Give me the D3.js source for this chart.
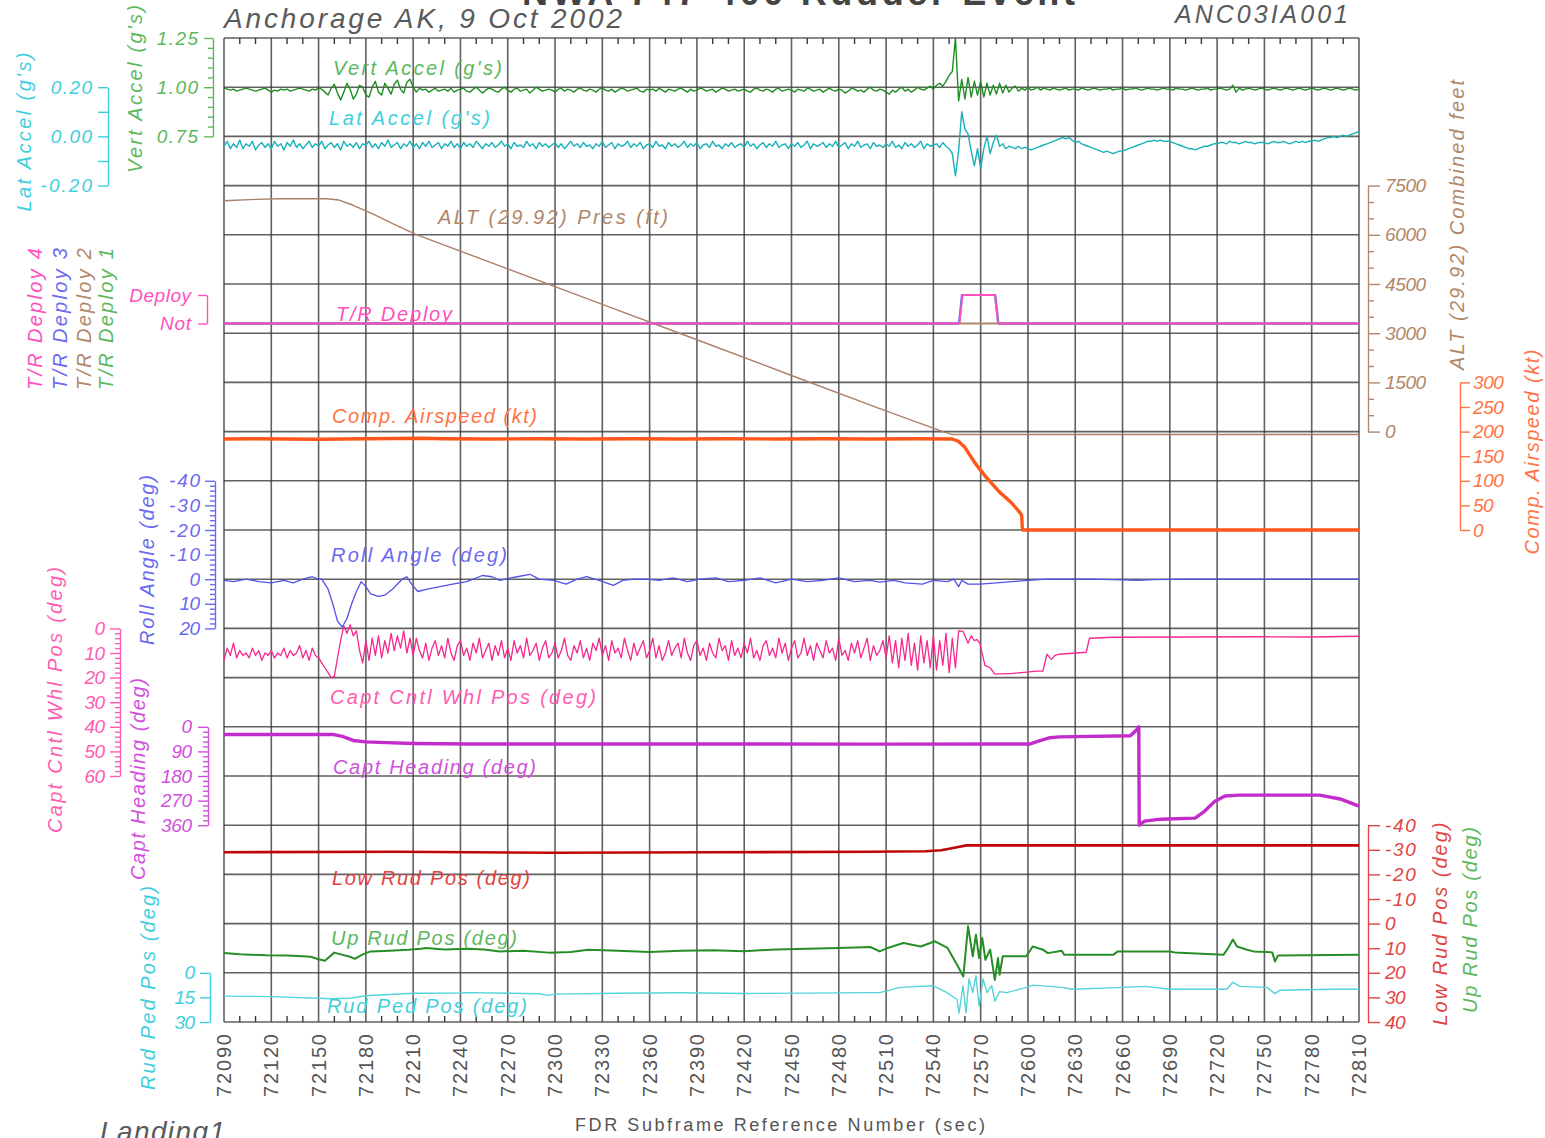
<!DOCTYPE html>
<html>
<head>
<meta charset="utf-8">
<script src="https://cdn.jsdelivr.net/npm/d3@7"></script>
<style>
  body { margin: 0; background: #fff; }
  svg text { font-family: "Liberation Sans", "DejaVu Sans", sans-serif; }
</style>
</head>
<body>
<svg id="chart" width="1545" height="1138"></svg>
<script>
// ---------------- data ----------------
// FDR subframe reference time (sec)
const xTickValues = [72090,72120,72150,72180,72210,72240,72270,72300,72330,72360,72390,72420,
  72450,72480,72510,72540,72570,72600,72630,72660,72690,72720,72750,72780,72810];

// uniformly sampled channels (every 2 s from 72090)
const sampleStart = 72090, sampleStep = 2;

// Vertical acceleration (g)
const vertAccel = [
  0.995,0.99,0.985,0.99,0.98,0.985,0.99,0.995,0.99,0.985,0.98,0.985,0.99,0.995,0.985,
  0.975,0.985,0.98,0.99,0.985,0.99,0.98,0.985,0.99,0.995,0.99,0.985,0.98,0.99,0.985,
  0.995,0.99,0.975,0.96,0.995,1.015,0.97,0.935,0.975,1.02,0.99,0.94,0.965,1.01,1.0,
  0.96,0.95,1.0,1.03,0.975,0.96,1.02,0.995,0.965,1.015,1.035,0.99,0.97,1.025,1.04,
  1.0,0.975,0.995,0.985,0.99,0.975,0.985,0.995,0.98,0.985,0.99,0.98,0.995,0.975,0.985,
  0.99,0.995,0.98,0.975,0.99,1.0,0.985,0.97,0.985,0.995,0.99,0.98,0.975,0.99,1.0,
  0.985,0.975,0.99,0.995,0.98,0.985,0.99,0.97,0.985,1.0,0.99,0.98,0.985,0.99,0.985,
  0.975,0.99,0.995,0.98,0.99,0.985,0.975,0.99,0.995,0.985,0.98,0.99,0.985,0.975,0.99,
  0.995,0.985,0.98,0.99,0.975,0.985,0.995,0.99,0.98,0.985,0.99,0.995,0.98,0.975,0.99,
  0.985,0.99,0.98,0.995,0.985,0.975,0.99,0.985,0.98,0.99,0.995,0.985,0.975,0.99,0.98,
  0.985,0.995,0.99,0.98,0.985,0.99,0.975,0.985,0.995,0.99,0.98,0.985,0.99,0.98,0.985,
  0.99,0.98,0.975,0.99,0.995,0.985,0.98,0.99,0.985,0.975,0.99,0.995,0.98,0.985,0.99,
  0.985,0.975,0.99,0.985,0.98,0.995,0.99,0.98,0.985,0.99,0.975,0.985,0.995,0.985,0.98,
  0.99,0.985,0.97,0.98,0.995,0.99,0.98,0.985,0.975,0.99,1.0,0.985,0.98,0.99,0.985,
  0.975,0.965,0.985,0.975,0.99,1.0,0.98,0.99,0.975,0.985,1.0,0.99,0.985,0.995,1.005,
  0.99,1.01,1.02,1.005,1.03,1.06,1.08,1.25,0.93,1.04,0.94,1.05,0.95,1.03,0.96,
  1.03,0.95,1.02,0.96,1.01,0.965,1.02,0.97,1.01,0.975,0.995,1.005,0.98,0.995,0.985,
  1.0,0.985,0.99,1.0,0.985,0.995,0.99,0.985,0.995,0.99,0.985,0.99,0.995,0.985,0.99,
  0.99,0.985,0.995,0.99,0.985,0.99,0.995,0.99,0.985,0.99,0.99,0.995,0.985,0.99,0.99,
  0.995,0.985,0.99,0.99,0.995,0.99,0.985,0.99,0.995,0.99,0.99,0.985,0.99,0.995,0.99,
  0.99,0.985,0.995,0.99,0.99,0.985,0.99,0.995,0.99,0.985,0.99,0.99,0.995,0.985,0.99,
  0.99,0.995,0.99,0.985,0.99,1.01,0.975,0.995,0.985,0.99,0.995,0.99,0.985,0.99,0.995,
  0.99,0.985,0.99,0.995,0.99,0.985,0.99,0.995,0.99,0.985,0.99,0.995,0.99,0.985,0.99,
  0.995,0.99,0.985,0.99,0.995,0.99,0.985,0.99,0.995,0.99,0.985,0.99,0.995,0.99,0.985,
  0.99
];

// Lateral acceleration (g)
const latAccel = [
  -0.04,-0.02,-0.05,-0.03,-0.045,-0.015,-0.05,-0.03,-0.04,-0.02,-0.055,-0.035,-0.025,-0.045,-0.03,
  -0.05,-0.02,-0.04,-0.03,-0.055,-0.025,-0.04,-0.015,-0.045,-0.03,-0.05,-0.035,-0.02,-0.045,-0.03,
  -0.04,-0.02,-0.05,-0.035,-0.025,-0.045,-0.03,-0.055,-0.02,-0.04,-0.03,-0.045,-0.025,-0.05,-0.03,
  -0.035,-0.02,-0.045,-0.03,-0.05,-0.025,-0.04,-0.015,-0.045,-0.035,-0.025,-0.05,-0.03,-0.04,-0.02,
  -0.045,-0.03,-0.05,-0.025,-0.04,-0.02,-0.045,-0.035,-0.025,-0.05,-0.03,-0.04,-0.02,-0.045,-0.03,
  -0.05,-0.025,-0.04,-0.03,-0.045,-0.02,-0.035,-0.05,-0.03,-0.04,-0.025,-0.045,-0.035,-0.02,-0.04,
  -0.03,-0.05,-0.025,-0.04,-0.035,-0.045,-0.02,-0.04,-0.03,-0.05,-0.025,-0.04,-0.03,-0.045,-0.035,
  -0.025,-0.045,-0.03,-0.05,-0.035,-0.02,-0.04,-0.03,-0.045,-0.025,-0.04,-0.035,-0.05,-0.03,-0.04,
  -0.02,-0.045,-0.035,-0.025,-0.05,-0.03,-0.04,-0.035,-0.02,-0.045,-0.03,-0.04,-0.025,-0.05,-0.035,
  -0.03,-0.045,-0.02,-0.04,-0.035,-0.05,-0.025,-0.04,-0.03,-0.045,-0.035,-0.02,-0.045,-0.03,-0.04,
  -0.025,-0.05,-0.035,-0.03,-0.045,-0.02,-0.04,-0.035,-0.05,-0.03,-0.04,-0.025,-0.045,-0.035,-0.03,
  -0.045,-0.02,-0.04,-0.03,-0.05,-0.035,-0.025,-0.045,-0.03,-0.04,-0.02,-0.045,-0.035,-0.03,-0.05,
  -0.03,-0.04,-0.025,-0.045,-0.035,-0.02,-0.05,-0.03,-0.04,-0.035,-0.025,-0.045,-0.03,-0.04,-0.02,
  -0.045,-0.035,-0.025,-0.05,-0.03,-0.04,-0.02,-0.045,-0.035,-0.03,-0.05,-0.025,-0.04,-0.035,-0.045,
  -0.03,-0.04,-0.02,-0.045,-0.035,-0.05,-0.025,-0.04,-0.03,-0.045,-0.035,-0.02,-0.05,-0.03,-0.04,
  -0.035,-0.03,-0.045,-0.025,-0.04,-0.05,-0.07,-0.16,-0.06,0.10,0.03,0.01,-0.06,-0.12,-0.05,
  -0.13,-0.05,0.0,-0.07,-0.025,0.005,-0.04,-0.03,-0.05,-0.04,-0.045,-0.05,-0.04,-0.05,-0.045,
  -0.05,-0.055,-0.05,-0.045,-0.04,-0.035,-0.03,-0.025,-0.02,-0.015,-0.01,-0.005,-0.01,-0.005,-0.015,
  -0.025,-0.02,-0.03,-0.035,-0.04,-0.045,-0.05,-0.055,-0.06,-0.065,-0.06,-0.065,-0.07,-0.065,-0.06,
  -0.06,-0.055,-0.05,-0.045,-0.04,-0.035,-0.03,-0.025,-0.02,-0.02,-0.015,-0.02,-0.015,-0.02,-0.02,
  -0.02,-0.025,-0.03,-0.035,-0.04,-0.045,-0.05,-0.05,-0.055,-0.05,-0.045,-0.04,-0.04,-0.035,-0.03,
  -0.03,-0.025,-0.025,-0.03,-0.02,-0.025,-0.025,-0.03,-0.025,-0.02,-0.025,-0.025,-0.03,-0.025,-0.025,
  -0.025,-0.03,-0.025,-0.02,-0.025,-0.025,-0.02,-0.025,-0.03,-0.025,-0.02,-0.025,-0.02,-0.025,-0.02,
  -0.02,-0.015,-0.02,-0.015,-0.01,-0.005,-0.005,0.0,-0.005,0.0,0.005,0.0,0.005,0.01,0.015,
  0.02
];

// Captain control wheel position (deg), sampled part before touchdown
const cntlWhlSampled = [
  13,8,11,6,12,9,11,10,12,8,11,9,13,10,11,
  9,12,10,11,8,12,9,11,10,7,12,9,13,8,11,
  12,14,16,18,20,19.5,12,5,-1,2,-1.5,3,1,9,14,
  5,13,4,11,3,12,5,10,2,9,3,8,1,10,4,
  11,4,9,12,6,13,8,5,11,7,12,4,10,13,7,
  5,11,8,13,6,10,4,12,9,6,13,7,11,5,12,
  8,13,5,10,7,12,4,11,9,6,13,8,5,12,10,
  6,12,9,4,11,13,7,10,5,12,8,13,6,9,4,
  11,7,13,5,10,8,12,4,9,13,6,11,8,5,12,
  9,4,12,7,13,10,5,11,8,6,12,4,10,13,7,
  5,11,8,13,6,10,12,4,9,7,13,5,11,8,12,
  6,10,4,12,9,13,7,5,11,8,12,4,10,6,13,
  8,5,12,10,4,11,7,13,6,9,12,5,10,8,13,
  4,11,9,13,6,10,5,12,8,4,13,7,11,9,5,
  12,3,14,5,16,4,13,2,15,6,17,3,14,5,16,
  3,17,5,15,2,18,4,16,1
];
// Captain control wheel position (deg) after touchdown, [time, value]
const cntlWhlAfter = [
  [72558.8,1.2],[72562,6],[72564,3],[72566,5],[72567.6,4.5],[72569.5,6],[72572.7,15],[72576,16],
  [72579,18.6],[72590,18.3],[72605.7,17.4],[72609.5,17.4],[72612,10.5],[72614,12],[72615,12.6],
  [72617,11],[72620,10.5],[72637,9.7],[72639,4],[72654,3.6],[72700,3.5],[72750,3.4],[72780,3.5],[72810,3.2]
];

// Pressure altitude (ft), [time, value]
const altitude = [
  [72090,7040],[72110,7080],[72125,7100],[72155,7100],[72163,7060],[72172,6900],[72185,6620],
  [72198,6320],[72212,6007],[72270,4960],[72330,3880],[72390,2800],[72450,1710],[72506,701],
  [72546,0],[72552,-90],[72810,-90]
];

// Thrust reverser deploy discretes (0 = Not, 1 = Deploy)
const trDeploy1 = [[72090,0],[72556.5,0],[72558.5,1],[72579,1],[72581,0],[72810,0]];
const trDeploy2 = [[72090,0],[72810,0]];
const trDeploy3 = [[72090,0],[72556.1,0],[72558.0,1],[72579.4,1],[72581.4,0],[72810,0]];
const trDeploy4 = [[72090,0],[72556.5,0],[72558.5,1],[72579,1],[72581,0],[72810,0]];

// Computed airspeed (kt)
const airspeed = [
  [72090,185],[72110,185.5],[72130,185],[72150,184.5],[72180,185.5],[72200,186],[72215,186.5],
  [72230,185.5],[72260,185],[72290,185.5],[72320,185],[72350,185.5],[72380,185],[72410,185.5],
  [72440,185],[72470,185.5],[72500,185],[72530,185.5],[72552,185],[72556,180],[72560,168],
  [72566,138],[72573,109],[72582,77],[72589,57],[72594,39],[72596,30],[72596.5,0],[72810,0]
];

// Roll angle (deg)
const rollAngle = [
  [72090,0.5],[72096,1],[72104,0],[72112,1],[72120,1.5],[72128,0.5],[72134,1.5],[72140,0],[72146,-1],
  [72150,0],[72152,0],[72156,4],[72159,10],[72162,17],[72165,19.5],[72168,16],[72171,10],[72174,5],
  [72177,1],[72180,3],[72183,6],[72188,7],[72192,6.5],[72197,4],[72203,0],[72206,-1],[72209,2],
  [72213,5],[72219,4],[72227,3],[72235,2],[72244,1],[72254,-1.5],[72260,-1],[72265,0.5],[72272,-0.5],
  [72276,-1],[72284,-2],[72290,0],[72299,0.5],[72307,2],[72314,0],[72320,-1],[72328,0.5],[72337,2.5],
  [72343,0.5],[72350,0],[72358,0],[72366,0.5],[72375,-0.5],[72384,1],[72392,0],[72402,-0.5],[72410,1],
  [72420,0.5],[72430,-0.5],[72440,1.5],[72450,0],[72460,1],[72470,0.5],[72480,-0.5],[72490,1],
  [72500,0.5],[72506,1.2],[72515,0.5],[72522,1.5],[72533,2],[72540,0.5],[72549,1],[72553,0],
  [72556,3],[72558,0.5],[72562,2],[72570,2],[72580,1.5],[72590,1],[72600,0.5],[72612,0],[72640,0],
  [72660,0.3],[72670,0.5],[72680,0.2],[72700,0],[72810,0]
];

// Captain heading (deg)
const captHeading = [
  [72090,28],[72159,28],[72165,35],[72172,50],[72180,55],[72193,58],[72210,61],[72244,63],[72400,63],
  [72500,63.5],[72601,63],[72607.6,51],[72614,40],[72620,37],[72665,33],[72669,11],[72670.3,0],
  [72670.6,360],[72674,345],[72684,338],[72706,334],[72712,309],[72718.6,272],[72725,253],
  [72734.5,250],[72785,250],[72798,264],[72810,290]
];

// Lower rudder position (deg)
const lowRudPos = [
  [72090,-29],[72200,-29.2],[72300,-28.8],[72400,-29],[72500,-29.2],[72535,-29.4],[72545,-29.8],
  [72555,-31],[72561,-31.8],[72810,-31.8]
];

// Upper rudder position (deg)
const upRudPos = [
  [72090,12],[72100,12.5],[72117,12.9],[72130,13],[72140,13.3],[72145,13.5],[72150,14.5],[72154,15.1],
  [72156,14],[72160,11.8],[72164,12.5],[72170,13.5],[72173,14.3],[72178,12.5],[72183,11.3],[72195,11],
  [72207,10.6],[72215,10.2],[72218,9.9],[72230,10.5],[72245,10.2],[72255,10.5],[72265,11.3],[72280,11],
  [72296,11.8],[72310,11.5],[72321,10.6],[72340,11],[72360,11.5],[72380,11],[72400,10.8],[72420,11.2],
  [72440,10.5],[72460,10.2],[72480,9.9],[72500,9.5],[72506,11.3],[72511,9.9],[72521,7.9],[72532,9.3],
  [72541,7.2],[72549,9.9],[72555,16.7],[72559,21.5],[72562,1.1],[72565,13.3],[72567,4.5],[72569,14],
  [72571,5.8],[72573,14.7],[72576,10.6],[72579,22.9],[72581,14],[72582,20.8],[72584,13.3],[72599,13.3],
  [72603,9.3],[72609.5,10.6],[72612.6,12],[72621.5,11],[72623,12.7],[72654,12.7],[72657,11.3],
  [72690,11.3],[72693,11.7],[72724,12.7],[72727,9.9],[72730,6.5],[72732.6,9.3],[72739,10.6],
  [72743,11.3],[72755,11.7],[72756.7,15.4],[72758.6,13],[72810,12.7]
];

// Rudder pedal position (deg)
const rudPedPos = [
  [72090,14.2],[72120,14.5],[72150,15.5],[72158,15.8],[72170,15.5],[72180,14],[72210,12.5],[72240,12.3],
  [72247,12.1],[72290,12.8],[72295,13.8],[72300,13],[72340,12.5],[72380,12.2],[72420,12.6],[72460,12.4],
  [72500,12.1],[72506,12.1],[72519,8.9],[72540,7.9],[72548.6,12.1],[72555,16.3],[72556.3,24.6],
  [72558.8,7.9],[72560.7,24.4],[72562.6,3.8],[72565,12.1],[72567,1.7],[72569,20.4],[72571.5,3.8],
  [72574,12.1],[72577,7.9],[72579,17.3],[72582,11.5],[72586.5,12.1],[72599,8.9],[72603,7.5],
  [72621.5,8.9],[72628.5,10],[72660,8.9],[72675,8.3],[72690,10],[72726,10],[72730,5.8],[72734.5,8.3],
  [72751.6,8.9],[72756.7,12.7],[72760,10.6],[72792,10],[72810,10]
];

// ---------------- layout ----------------
const svg = d3.select("#chart");
const plotLeft = 224, plotRight = 1359, plotTop = 38, plotBottom = 1022;
const rowH = (plotBottom - plotTop) / 20;
const rowY = i => plotTop + i * rowH;
const FONT = '"Liberation Sans", "DejaVu Sans", sans-serif';

const x = d3.scaleLinear().domain([72090, 72810]).range([plotLeft, plotRight]);

const yVert = d3.scaleLinear().domain([0.75, 1.25]).range([rowY(2), rowY(0)]);
const yLat = d3.scaleLinear().domain([-0.2, 0.2]).range([rowY(3), rowY(1)]);
const yAlt = d3.scaleLinear().domain([0, 7500]).range([rowY(8), rowY(3)]);
const yTR = d3.scaleLinear().domain([0, 1]).range([323.5, 295]);
const yAir = d3.scaleLinear().domain([0, 300]).range([rowY(10), rowY(7)]);
const yRoll = d3.scaleLinear().domain([-40, 20]).range([rowY(9), rowY(12)]);
const yWhl = d3.scaleLinear().domain([0, 60]).range([rowY(12), rowY(15)]);
const yHdg = d3.scaleLinear().domain([0, 360]).range([rowY(14), rowY(16)]);
const yRud = d3.scaleLinear().domain([-40, 40]).range([rowY(16), rowY(20)]);
const yPed = d3.scaleLinear().domain([0, 30]).range([rowY(19), rowY(20)]);

const C = {
  grey: "#5a5a5a",
  greenLbl: "#5cb85c", greenTrace: "#1f8c1f",
  cyanLbl: "#3fcfdc", latTrace: "#17b0bb", pedTrace: "#55d3dc",
  brownLbl: "#b0876a", altTrace: "#a9806a",
  pink: "#ff4fc0", blue: "#6a6af0", rollTrace: "#5252e6",
  orangeLbl: "#ff7445", orangeTrace: "#ff561c",
  whlLbl: "#ff5cb2", whlTrace: "#f5288f",
  hdgLbl: "#d050dc", hdgTrace: "#c22cca",
  redLbl: "#e04444", redTrace: "#bf0606",
  upRudTrace: "#278e27"
};

// ---------------- grid ----------------
const grid = svg.append("g");
grid.selectAll("line.h").data(d3.range(21)).join("line")
  .attr("x1", plotLeft).attr("x2", plotRight)
  .attr("y1", d => rowY(d)).attr("y2", d => rowY(d))
  .attr("stroke", "#3a3a3a").attr("stroke-opacity", 0.8).attr("stroke-width", 1.6);
grid.selectAll("line.v").data(xTickValues).join("line")
  .attr("x1", d => x(d)).attr("x2", d => x(d))
  .attr("y1", plotTop).attr("y2", plotBottom)
  .attr("stroke", "#3a3a3a").attr("stroke-opacity", 0.8).attr("stroke-width", 1.6);

// 10-second minor ticks along top and bottom edges
const minorX = d3.range(72090, 72811, 10).filter(t => (t - 72090) % 30 !== 0);
grid.selectAll("line.mt").data(minorX).join("line")
  .attr("x1", d => x(d)).attr("x2", d => x(d))
  .attr("y1", plotTop).attr("y2", plotTop + 6)
  .attr("stroke", "#3a3a3a").attr("stroke-width", 1.4);
grid.selectAll("line.mb").data(minorX).join("line")
  .attr("x1", d => x(d)).attr("x2", d => x(d))
  .attr("y1", plotBottom).attr("y2", plotBottom - 6)
  .attr("stroke", "#3a3a3a").attr("stroke-width", 1.4);

// ---------------- axes ----------------
function styleAxis(g, color) {
  g.attr("font-size", null).attr("font-family", null);
  g.selectAll("path, line").attr("stroke", color).attr("stroke-width", 1.4);
  g.selectAll("text").attr("fill", color)
    .style("font-family", FONT).style("font-size", "19px").style("font-style", "italic")
    .attr("textLength", function () { return this.textContent.length * 10.3; })
    .attr("lengthAdjust", "spacing");
}
function valueAxis(side, scale, xPos, color, majors, fmt, minors, majorLen, minorLen, pad) {
  const make = side === "left" ? d3.axisLeft : d3.axisRight;
  const g = svg.append("g").attr("transform", `translate(${xPos},0)`);
  g.call(make(scale).tickValues(majors).tickFormat(fmt).tickSize(majorLen).tickSizeOuter(0).tickPadding(pad));
  styleAxis(g, color);
  if (minors && minors.length) {
    const m = svg.append("g").attr("transform", `translate(${xPos},0)`);
    m.call(make(scale).tickValues(minors).tickFormat("").tickSize(minorLen).tickSizeOuter(0));
    m.select(".domain").remove();
    styleAxis(m, color);
  }
  return g;
}
const plain = d => String(d);
const twoDec = d => d.toFixed(2);

valueAxis("left", yVert, 213, C.greenLbl, [0.75, 1.0, 1.25], twoDec,
  [0.8, 0.85, 0.9, 0.95, 1.05, 1.1, 1.15, 1.2], 9, 5, 6);
valueAxis("left", yLat, 108, C.cyanLbl, [-0.2, 0, 0.2], twoDec, [-0.1, 0.1], 10, 10, 6);
valueAxis("left", yTR, 207, C.pink, [0, 1], d => d ? "Deploy" : "Not", [], 9, 0, 7);
valueAxis("left", yRoll, 215, C.blue, [-40, -30, -20, -10, 0, 10, 20], plain,
  d3.range(-38, 20, 2).filter(d => d % 10 !== 0), 10, 5, 5);
valueAxis("left", yWhl, 120, C.whlLbl, [0, 10, 20, 30, 40, 50, 60], plain,
  d3.range(2, 60, 2).filter(d => d % 10 !== 0), 10, 5, 5);
valueAxis("left", yHdg, 208, C.hdgLbl, [0, 90, 180, 270, 360], plain,
  d3.range(18, 360, 18).filter(d => d % 90 !== 0), 10, 5, 6);
valueAxis("left", yPed, 210, C.cyanLbl, [0, 15, 30], plain, [], 10, 0, 5);
valueAxis("right", yAlt, 1368, C.brownLbl, [0, 1500, 3000, 4500, 6000, 7500], plain,
  d3.range(500, 7500, 500).filter(d => d % 1500 !== 0), 12, 6, 5);
valueAxis("right", yAir, 1460, C.orangeLbl, [0, 50, 100, 150, 200, 250, 300], plain, [], 10, 0, 3);
valueAxis("right", yRud, 1368, C.redLbl, [-40, -30, -20, -10, 0, 10, 20, 30, 40], plain, [], 12, 0, 5);

// x axis labels (rotated)
svg.append("g").selectAll("text").data(xTickValues).join("text")
  .attr("transform", d => `translate(${x(d)},1034) rotate(-90)`)
  .attr("text-anchor", "end").attr("dominant-baseline", "central")
  .attr("fill", "#555").style("font-size", "20px")
  .attr("textLength", 63).attr("lengthAdjust", "spacing")
  .text(d => d);

// ---------------- traces ----------------
const stepped = (vals, t0) => vals.map((v, i) => [t0 + i * sampleStep, v]);
function trace(data, y, color, width) {
  svg.append("path").datum(data)
    .attr("fill", "none").attr("stroke", color).attr("stroke-width", width)
    .attr("stroke-linejoin", "round")
    .attr("d", d3.line().x(d => x(d[0])).y(d => y(d[1])));
}

trace(altitude, yAlt, C.altTrace, 1.4);
trace(stepped(vertAccel, sampleStart), yVert, C.greenTrace, 1.4);
trace(stepped(latAccel, sampleStart), yLat, C.latTrace, 1.4);
trace(trDeploy1, yTR, "#4fb04f", 1.8);
trace(trDeploy2, yTR, C.brownLbl, 1.8);
trace(trDeploy3, yTR, C.blue, 1.8);
trace(trDeploy4, yTR, C.pink, 1.8);
trace(airspeed, yAir, C.orangeTrace, 3.4);
trace(rollAngle, yRoll, C.rollTrace, 1.3);
trace(stepped(cntlWhlSampled, sampleStart).concat(cntlWhlAfter), yWhl, C.whlTrace, 1.3);
trace(captHeading, yHdg, C.hdgTrace, 3.4);
trace(lowRudPos, yRud, C.redTrace, 2.6);
trace(upRudPos, yRud, C.upRudTrace, 2.0);
trace(rudPedPos, yPed, C.pedTrace, 1.4);

// ---------------- text ----------------
function label(txt, x0, y0, color, size, len, opts = {}) {
  const t = svg.append("text").text(txt)
    .attr("fill", color).style("font-size", size + "px")
    .style("font-style", opts.upright ? "normal" : "italic")
    .style("font-weight", opts.bold ? "bold" : "normal");
  if (opts.rotate) {
    t.attr("transform", `translate(${x0},${y0}) rotate(-90)`)
      .attr("text-anchor", "middle").attr("dominant-baseline", "central");
  } else {
    t.attr("x", x0).attr("y", y0).attr("text-anchor", opts.anchor || "start");
  }
  if (len) t.attr("textLength", len).attr("lengthAdjust", "spacing");
  return t;
}

// in-plot channel names
label("Vert Accel (g's)", 333, 75, C.greenLbl, 20, 169);
label("Lat Accel (g's)", 329, 125, C.cyanLbl, 20, 161);
label("ALT (29.92) Pres (ft)", 438, 224, C.brownLbl, 20, 230);
label("T/R Deploy", 336, 321, C.pink, 20, 116);
label("Comp. Airspeed (kt)", 332, 423, C.orangeLbl, 20, 205);
label("Roll Angle (deg)", 331, 562, C.blue, 20, 176);
label("Capt Cntl Whl Pos (deg)", 330, 704, C.whlLbl, 20, 266);
label("Capt Heading (deg)", 333, 774, C.hdgLbl, 20, 203);
label("Low Rud Pos (deg)", 332, 885, C.redLbl, 20, 198);
label("Up Rud Pos (deg)", 331, 945, C.greenLbl, 20, 186);
label("Rud Ped Pos (deg)", 327, 1013, C.cyanLbl, 20, 200);

// axis titles
label("Lat Accel (g's)", 24, 132, C.cyanLbl, 20, 159, { rotate: true });
label("Vert Accel (g's)", 135, 89, C.greenLbl, 20, 168, { rotate: true });
label("T/R Deploy 4", 35, 319, C.pink, 20, 142, { rotate: true });
label("T/R Deploy 3", 60, 319, C.blue, 20, 142, { rotate: true });
label("T/R Deploy 2", 84, 319, C.brownLbl, 20, 142, { rotate: true });
label("T/R Deploy 1", 106, 319, C.greenLbl, 20, 142, { rotate: true });
label("Roll Angle (deg)", 147, 560, C.blue, 20, 170, { rotate: true });
label("Capt Cntl Whl Pos (deg)", 55, 700, C.whlLbl, 20, 266, { rotate: true });
label("Capt Heading (deg)", 138, 779, C.hdgLbl, 20, 202, { rotate: true });
label("Rud Ped Pos (deg)", 148, 988, C.cyanLbl, 20, 204, { rotate: true });
label("ALT (29.92) Combined feet", 1457, 225, C.brownLbl, 20, 290, { rotate: true });
label("Comp. Airspeed (kt)", 1532, 452, C.orangeLbl, 20, 205, { rotate: true });
label("Low Rud Pos (deg)", 1440, 924, C.redLbl, 20, 203, { rotate: true });
label("Up Rud Pos (deg)", 1470, 920, C.greenLbl, 20, 186, { rotate: true });

// headings and footers
label("NWA 747-400 Rudder Event", 522, 5, "#444", 36, 553, { upright: true, bold: true });
label("Anchorage AK, 9 Oct 2002", 224, 28, C.grey, 28, 398);
label("ANC03IA001", 1348, 23, C.grey, 25, 173, { anchor: "end" });
label("FDR Subframe Reference Number (sec)", 575, 1131, "#555", 18, 410, { upright: true });
label("Landing1", 100, 1141, C.grey, 28, 125);
</script>
</body>
</html>
